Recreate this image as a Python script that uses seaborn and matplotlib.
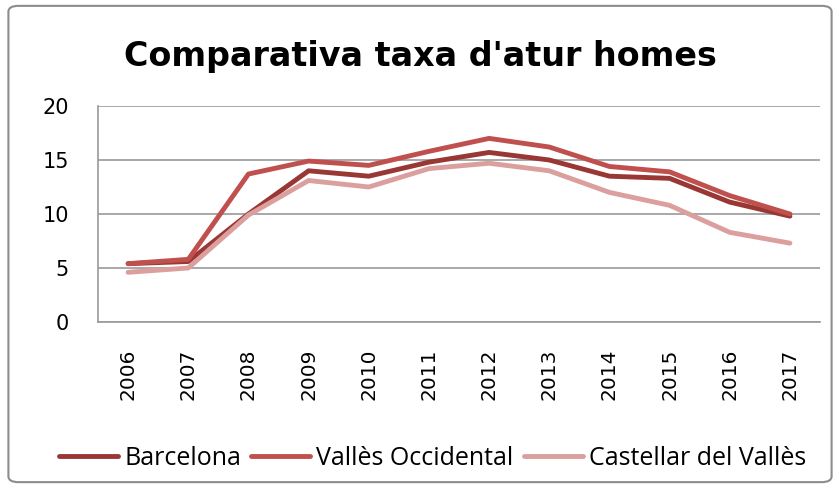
import pandas as pd
import matplotlib.pyplot as plt
import seaborn as sns
from matplotlib.patches import FancyBboxPatch

# Values
years = ['2006', '2007', '2008', '2009', '2010', '2011',
         '2012', '2013', '2014', '2015', '2016', '2017']
barcelona = [5.4, 5.6, 10.0, 14.0, 13.5, 14.8, 15.7, 15.0, 13.5, 13.3, 11.1, 9.8]
valles_occ = [5.4, 5.8, 13.7, 14.9, 14.5, 15.8, 17.0, 16.2, 14.4, 13.9, 11.7, 10.0]
castellar = [4.6, 5.0, 9.9, 13.1, 12.5, 14.2, 14.7, 14.0, 12.0, 10.8, 8.3, 7.3]

series = ['Barcelona', 'Vallès Occidental', 'Castellar del Vallès']
colors = ['#993735', '#C0504D', '#DBA09E']

df = pd.DataFrame({'Any': years, series[0]: barcelona,
                   series[1]: valles_occ, series[2]: castellar})
df = df.melt(id_vars='Any', var_name='Zona', value_name='Taxa')

sns.set_style('white')
plt.rcParams['text.color'] = 'black'
plt.rcParams['xtick.color'] = 'black'
plt.rcParams['ytick.color'] = 'black'

fig = plt.figure(figsize=(8.4, 4.88), dpi=100)
ax = fig.add_axes([0.1167, 0.3402, 0.8595, 0.4426])

sns.lineplot(data=df, x='Any', y='Taxa', hue='Zona', palette=colors,
             linewidth=3.5, sort=False, ax=ax)

ax.set_ylim(0, 20)
ax.set_yticks([0, 5, 10, 15, 20])
ax.set_xlim(-0.5, 11.5)
ax.yaxis.grid(True, color='#9A9A9A', linewidth=1.2)
ax.set_axisbelow(True)
for s in ['top', 'right']:
    ax.spines[s].set_visible(False)
for s in ['left', 'bottom']:
    ax.spines[s].set_color('#9A9A9A')
    ax.spines[s].set_linewidth(1.2)
ax.tick_params(axis='y', length=0, labelsize=15, pad=21)
ax.tick_params(axis='x', length=0, labelsize=14.5, pad=19, rotation=90)
ax.set_xlabel('')
ax.set_ylabel('')

fig.text(0.5, 0.885, "Comparativa taxa d'atur homes", fontsize=24,
         fontweight='bold', ha='center', va='center', color='black')

ax.legend(loc='center', bbox_to_anchor=(0.515, 0.061),
          bbox_transform=fig.transFigure, ncol=3, frameon=False,
          handlelength=2.36, handletextpad=0.24, columnspacing=0.4,
          prop={'family': 'Open Sans', 'size': 18})

border = FancyBboxPatch((0.01, 0.012), 0.98, 0.976,
                        boxstyle='round,pad=0,rounding_size=0.012',
                        transform=fig.transFigure, fill=False,
                        edgecolor='#8C8C8C', linewidth=1.5)
fig.patches.append(border)

fig.savefig('out.png', dpi=100)
